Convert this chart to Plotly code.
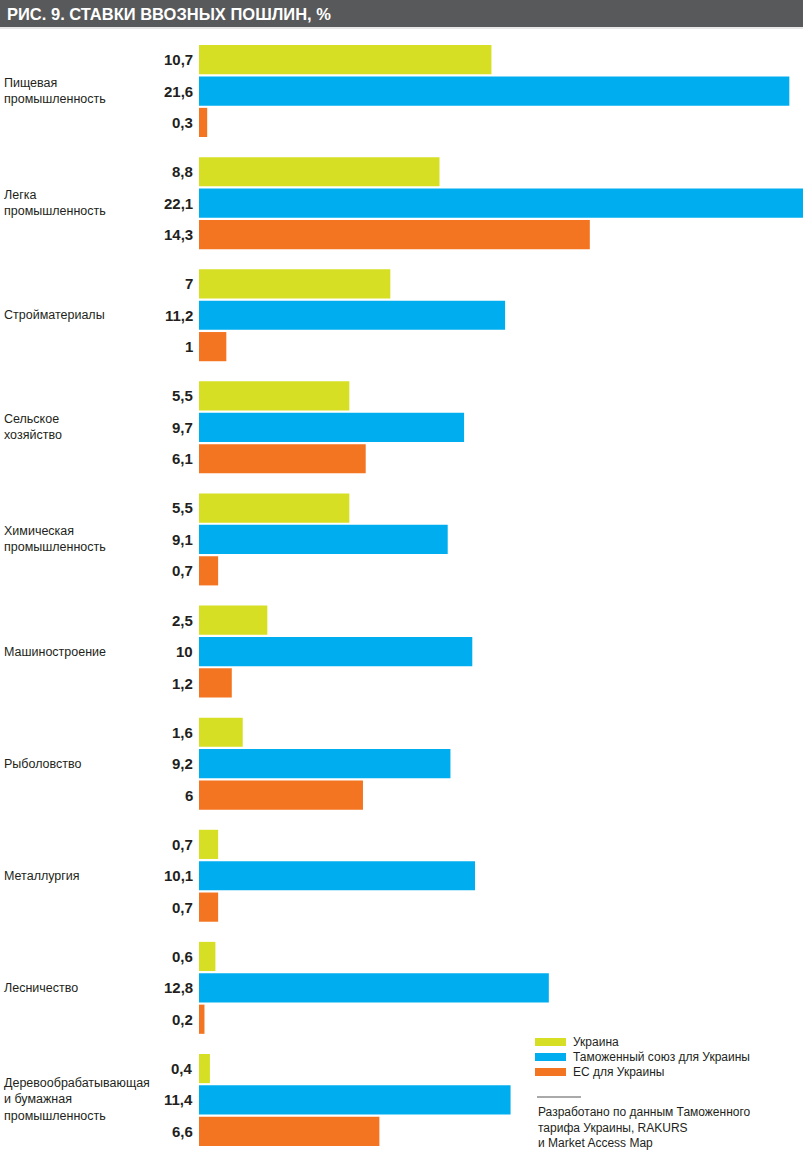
import plotly.graph_objects as go

categories = ["Пищевая промышленность", "Легка промышленность", "Стройматериалы",
              "Сельское хозяйство", "Химическая промышленность", "Машиностроение",
              "Рыболовство", "Металлургия", "Лесничество",
              "Деревообрабатывающая и бумажная промышленность"]
category_labels = ["Пищевая<br>промышленность", "Легка<br>промышленность", "Стройматериалы",
                   "Сельское<br>хозяйство", "Химическая<br>промышленность", "Машиностроение",
                   "Рыболовство", "Металлургия", "Лесничество",
                   "Деревообрабатывающая<br>и бумажная<br>промышленность"]
series_names = ["Украина", "Таможенный союз для Украины", "ЕС для Украины"]
ukraine = [10.7, 8.8, 7, 5.5, 5.5, 2.5, 1.6, 0.7, 0.6, 0.4]
customs_union = [21.6, 22.1, 11.2, 9.7, 9.1, 10, 9.2, 10.1, 12.8, 11.4]
eu = [0.3, 14.3, 1, 6.1, 0.7, 1.2, 6, 0.7, 0.2, 6.6]
colors = ["#d6df23", "#00aeef", "#f47521"]
title_text = "РИС. 9. СТАВКИ ВВОЗНЫХ ПОШЛИН, %"
source_text = "Разработано по данным Таможенного<br>тарифа Украины, RAKURS<br>и Market Access Map"

W, H = 803, 1153
ML, MT, MB, MR = 199, 35, 0, 0
PW, PH = W - ML - MR, H - MT - MB


def px(p):
    return (p - ML) / PW


def py(p):
    return (H - MB - p) / PH


series = [ukraine, customs_union, eu]
fig = go.Figure()
for name, vals, col in zip(series_names, series, colors):
    fig.add_trace(go.Bar(y=categories, x=vals, orientation="h", name=name,
                         marker=dict(color=col, line=dict(width=0)), showlegend=False,
                         hoverinfo="skip"))

fmt = lambda v: (f"{v:g}").replace(".", ",")
shifts = [31.5, 0, -31.5]
annotations = []
for vals, sh in zip(series, shifts):
    for c, v in zip(categories, vals):
        annotations.append(dict(x=0, y=c, xref="x", yref="y", text=fmt(v), showarrow=False,
                                xanchor="right", yanchor="middle", xshift=-4, yshift=sh,
                                font=dict(family="Liberation Sans, Arial", size=15, color="#231f20",
                                          weight="bold")))
for c, lab in zip(categories, category_labels):
    annotations.append(dict(x=px(2), y=c, xref="paper", yref="y", text=lab, showarrow=False,
                            xanchor="left", yanchor="middle", align="left",
                            font=dict(family="Liberation Sans, Arial", size=12.5, color="#231f20")))

shapes = [dict(type="rect", xref="paper", yref="paper", x0=px(0), x1=px(W), y0=py(27), y1=py(0),
               fillcolor="#58595b", line=dict(width=0), layer="above"),
          dict(type="line", xref="paper", yref="paper", x0=px(0), x1=px(W), y0=py(28), y1=py(28),
               line=dict(color="#d0d0d0", width=1))]
annotations.append(dict(x=px(5), y=py(14), xref="paper", yref="paper", text=title_text,
                        showarrow=False, xanchor="left", yanchor="middle",
                        font=dict(family="Liberation Sans, Arial", size=16.5, color="white",
                                  weight="bold")))

leg_y = [1042, 1057, 1072]
for name, col, ly in zip(series_names, colors, leg_y):
    shapes.append(dict(type="rect", xref="paper", yref="paper", x0=px(535), x1=px(566),
                       y0=py(ly + 4), y1=py(ly - 4), fillcolor=col, line=dict(width=0)))
    annotations.append(dict(x=px(571), y=py(ly), xref="paper", yref="paper", text=name,
                            showarrow=False, xanchor="left", yanchor="middle",
                            font=dict(family="Liberation Sans, Arial", size=12, color="#231f20")))

shapes.append(dict(type="line", xref="paper", yref="paper", x0=px(537), x1=px(581),
                   y0=py(1097), y1=py(1097), line=dict(color="#555555", width=1)))
annotations.append(dict(x=px(536), y=py(1103), xref="paper", yref="paper", text=source_text,
                        showarrow=False, xanchor="left", yanchor="top", align="left",
                        font=dict(family="Liberation Sans, Arial", size=12, color="#231f20")))

fig.update_layout(
    width=W, height=H, margin=dict(l=ML, r=MR, t=MT, b=MB, pad=0),
    paper_bgcolor="white", plot_bgcolor="white",
    barmode="group", bargap=0.16, bargroupgap=0.07,
    xaxis=dict(range=[0, 22.1], showgrid=False, zeroline=False, showticklabels=False,
               showline=False, ticks=""),
    yaxis=dict(range=[-0.5 + PH / 112.1, -0.5], showgrid=False, zeroline=False,
               showticklabels=False, showline=False, ticks="", type="category"),
    annotations=annotations, shapes=shapes,
)
fig.write_html("out.html", config={"displayModeBar": False},
               post_script="document.body.style.margin='0';document.body.style.padding='0';"
                           "document.body.style.overflow='hidden';")
